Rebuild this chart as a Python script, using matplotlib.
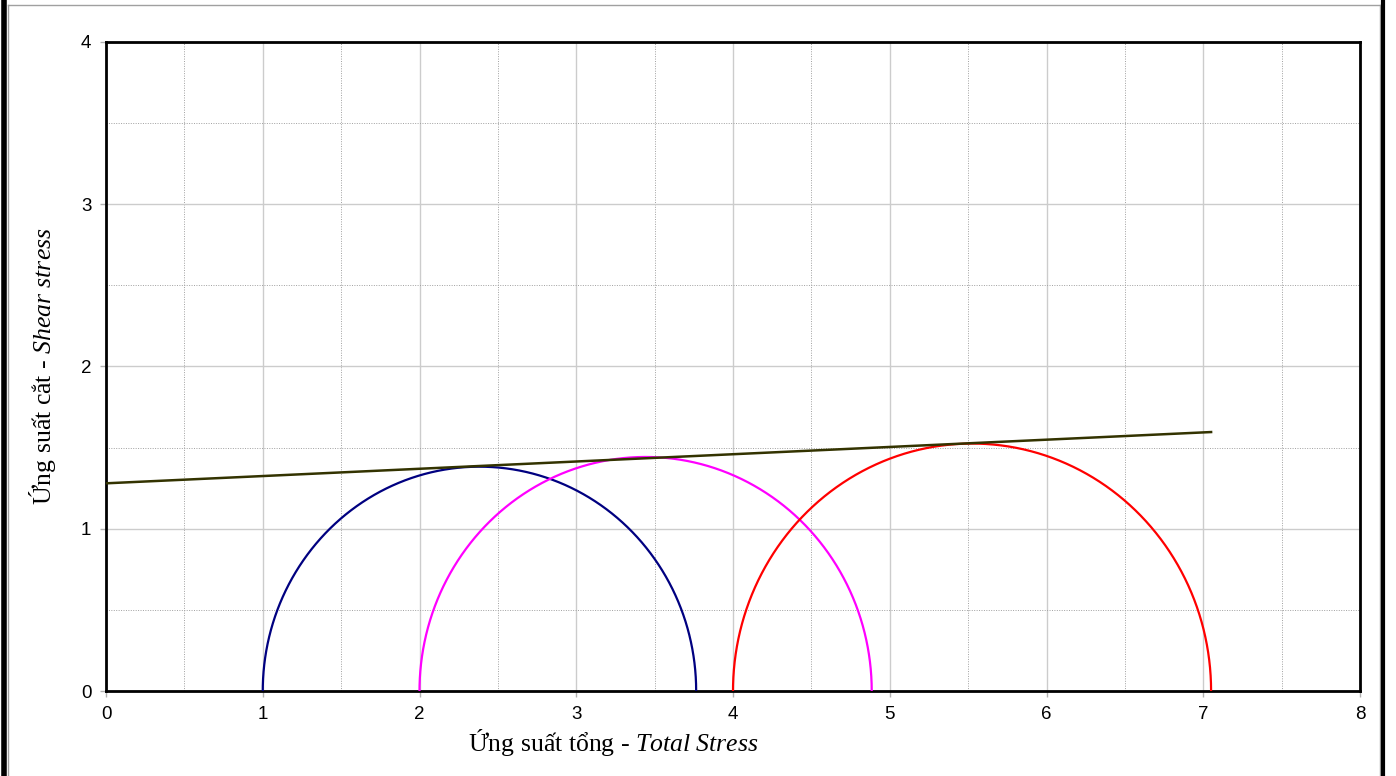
import numpy as np
import matplotlib
matplotlib.use("Agg")
import matplotlib.pyplot as plt
from matplotlib.lines import Line2D

# principal stresses of the three tests
sigma3 = [1.0, 2.0, 4.0]
sigma1 = [3.765, 4.885, 7.05]
circle_colors = ["#000080", "#FF00FF", "#FF0000"]

# failure envelope (two end points)
env_x = [0.0, 7.05]
env_y = [1.28, 1.596]

x_ticks = [0, 1, 2, 3, 4, 5, 6, 7, 8]
y_ticks = [0, 1, 2, 3, 4]

plt.rcParams["mathtext.fontset"] = "custom"
plt.rcParams["mathtext.rm"] = "Liberation Serif"
plt.rcParams["mathtext.it"] = "Liberation Serif:italic"

W, H = 1396, 776
fig = plt.figure(figsize=(W / 100, H / 100), dpi=100)
ax = fig.add_axes([106 / W, 1 - 691 / H, (1360 - 106) / W, (691 - 42) / H])

# outer frame: thin grey box with heavy black side bars
def fline(xs, ys, **kw):
    fig.add_artist(Line2D([x / W for x in xs], [1 - y / H for y in ys],
                          transform=fig.transFigure, **kw))

fline([8, 1380], [5, 5], color="#a0a0a0", lw=1.0)
fline([8, 8], [5, 776], color="#a0a0a0", lw=1.0)
fline([1380, 1380], [5, 776], color="#a0a0a0", lw=1.0)
fline([3.5, 3.5], [0, 776], color="black", lw=4.0)
fline([1383, 1383], [0, 776], color="black", lw=3.0)

theta = np.linspace(0, np.pi, 400)
for s3, s1, c in zip(sigma3, sigma1, circle_colors):
    centre = (s1 + s3) / 2
    r = (s1 - s3) / 2
    ax.plot(centre + r * np.cos(theta), r * np.sin(theta), color=c, lw=1.6, zorder=3)

ax.plot(env_x, env_y, color="#333300", lw=1.8, zorder=4)

ax.set_xlim(0, 8)
ax.set_ylim(0, 4)
ax.set_xticks(x_ticks)
ax.set_yticks(y_ticks)
ax.set_xticks(np.arange(0.5, 8, 1), minor=True)
ax.set_yticks(np.arange(0.5, 4, 1), minor=True)
ax.grid(which="major", color="#cccccc", lw=1.0, ls="-")
ax.grid(which="minor", color="#a0a0a0", lw=0.7, ls=(0, (1, 1.5)))
ax.set_axisbelow(True)
ax.tick_params(which="major", length=4.5, width=1, color="#b0b0b0", pad=6,
               labelsize=13.5, labelfontfamily="Liberation Sans")
ax.tick_params(which="minor", length=0)
for sp in ax.spines.values():
    sp.set_linewidth(2.0)
    sp.set_color("black")

fig.text(613 / W, 1 - 742 / H, "Ứng suất tổng - $\\mathit{Total\\ Stress}$",
         family="Liberation Serif", fontsize=18.5, ha="center", va="center")
fig.text(43 / W, 1 - 366 / H, "Ứng suất cắt - $\\mathit{Shear\\ stress}$",
         family="Liberation Serif", fontsize=18.5, ha="center", va="center",
         rotation=90)

fig.savefig("out.png", dpi=100, facecolor="white")
